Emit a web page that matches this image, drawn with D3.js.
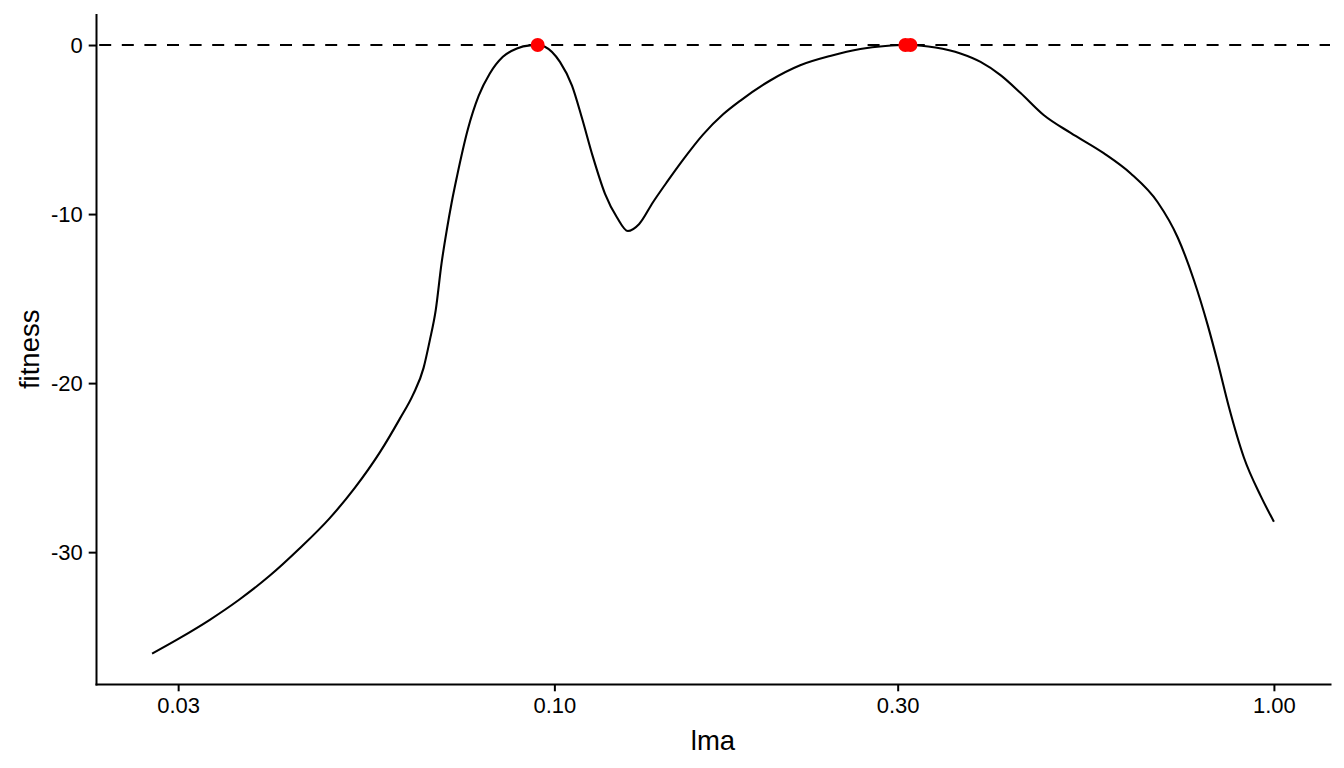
<!DOCTYPE html>
<html>
<head>
<meta charset="utf-8">
<script src="https://cdn.jsdelivr.net/npm/d3@7"></script>
<style>
  body { margin: 0; background: #fff; }
  svg { display: block; font-family: "Liberation Sans", Arial, sans-serif; }
</style>
</head>
<body>
<svg width="1344" height="768"></svg>
<script>
// fitness curve (lma on a log axis)
const lmaValues = [
    0.0276, 0.0301, 0.0332, 0.0365, 0.0402, 0.0442, 0.0487, 0.0528, 0.0572, 0.0610,
    0.0636, 0.0658, 0.0671, 0.0684, 0.0697, 0.0709, 0.0720, 0.0732, 0.0758, 0.0785,
    0.0813, 0.0848, 0.0887, 0.0925, 0.0948, 0.0970, 0.1018, 0.1058, 0.1092, 0.1131,
    0.1176, 0.1222, 0.1265, 0.1311, 0.1371, 0.1434, 0.1510, 0.1609, 0.1716, 0.1812,
    0.1995, 0.2196, 0.2417, 0.2662, 0.2884, 0.3075, 0.3125, 0.3385, 0.3667, 0.3911,
    0.4169, 0.4446, 0.4786, 0.5218, 0.5800, 0.6324, 0.6894, 0.7353, 0.7740, 0.8091,
    0.8357, 0.8657, 0.9084, 0.9592, 1.0
]
const fitnessValues = [
    -36.0, -35.1, -34.0, -32.8, -31.4, -29.8, -28.0, -26.2, -24.1, -22.1,
    -20.7, -19.1, -17.5, -15.7, -12.9, -10.9, -9.3, -7.8, -5.0, -3.0,
    -1.7, -0.7, -0.2, -0.02, 0, -0.1, -1.0, -2.4, -4.3, -6.6,
    -8.8, -10.2, -11.0, -10.6, -9.3, -8.1, -6.78, -5.3, -4.1, -3.3,
    -2.1, -1.2, -0.65, -0.24, -0.06, 0, 0, -0.15, -0.5, -1.0,
    -1.78, -2.84, -4.14, -5.2, -6.4, -7.6, -9.3, -11.4, -13.9, -16.57,
    -18.8, -21.4, -24.4, -26.7, -28.2
]

// the red optima
const optimaLma = [0.0948, 0.3075, 0.3125]
const optimaFitness = [0, 0, 0]

const xTicks = [0.03, 0.1, 0.3, 1]
const yTicks = [-30, -20, -10, 0]
const refLine = 0

const curve = lmaValues.map((v, i) => ({x: v, y: fitnessValues[i]}))
const optima = optimaLma.map((v, i) => ({x: v, y: optimaFitness[i]}))

var svg = d3.select("svg")

const panelLeft = 96, panelRight = 1330, panelTop = 14.6, panelBottom = 684

// ggplot-style 5% expansion, in log space for x
var lx = d3.extent(lmaValues).map(Math.log10)
var padX = (lx[1] - lx[0]) * 0.05
var x = d3.scaleLog()
    .domain([Math.pow(10, lx[0] - padX), Math.pow(10, lx[1] + padX)])
    .range([panelLeft, panelRight])

var fy = d3.extent(fitnessValues.concat(optimaFitness, [refLine]))
var padY = (fy[1] - fy[0]) * 0.05
var y = d3.scaleLinear()
    .domain([fy[0] - padY, fy[1] + padY])
    .range([panelBottom, panelTop])

// dashed reference line at 0
svg.append("line")
    .attr("x1", panelLeft).attr("x2", panelRight)
    .attr("y1", y(refLine)).attr("y2", y(refLine))
    .attr("stroke", "#000")
    .attr("stroke-width", 2)
    .attr("stroke-dasharray", "12,10.6")
    .attr("stroke-dashoffset", 19.4)

var line = d3.line()
    .x(d => x(d.x))
    .y(d => y(d.y))
    .curve(d3.curveMonotoneX)

svg.append("path")
    .datum(curve)
    .attr("d", line)
    .attr("fill", "none")
    .attr("stroke", "#000")
    .attr("stroke-width", 2.1)
    .attr("stroke-linejoin", "round")

svg.selectAll("circle.opt")
    .data(optima)
    .enter().append("circle")
    .attr("class", "opt")
    .attr("cx", d => x(d.x))
    .attr("cy", d => y(d.y))
    .attr("r", 7)
    .attr("fill", "#ff0000")

// axes
var xAxis = d3.axisBottom(x)
    .tickValues(xTicks)
    .tickFormat(d3.format(".2f"))
    .tickSizeInner(7.3)
    .tickSizeOuter(0)
    .tickPadding(5.9)

var yAxis = d3.axisLeft(y)
    .tickValues(yTicks)
    .tickFormat(d => String(d))
    .tickSizeInner(7.3)
    .tickSizeOuter(0)
    .tickPadding(5.9)

var gx = svg.append("g")
    .attr("transform", "translate(0," + panelBottom + ")")
    .call(xAxis)
var gy = svg.append("g")
    .attr("transform", "translate(" + panelLeft + ",0)")
    .call(yAxis)

;[gx, gy].forEach(g => {
    g.select(".domain").attr("stroke", "#000").attr("stroke-width", 2).attr("stroke-linecap", "square")
    g.selectAll(".tick line").attr("stroke", "#000").attr("stroke-width", 2)
    g.selectAll(".tick text")
        .attr("fill", "#000")
        .style("font-size", "22px")
        .style("font-family", '"Liberation Sans", Arial, sans-serif')
})

// axis titles
svg.append("text")
    .attr("x", (panelLeft + panelRight) / 2)
    .attr("y", 750)
    .attr("text-anchor", "middle")
    .style("font-size", "27.5px")
    .text("lma")

svg.append("text")
    .attr("transform", "translate(39," + ((panelTop + panelBottom) / 2) + ") rotate(-90)")
    .attr("text-anchor", "middle")
    .style("font-size", "27.5px")
    .text("fitness")
</script>
</body>
</html>
